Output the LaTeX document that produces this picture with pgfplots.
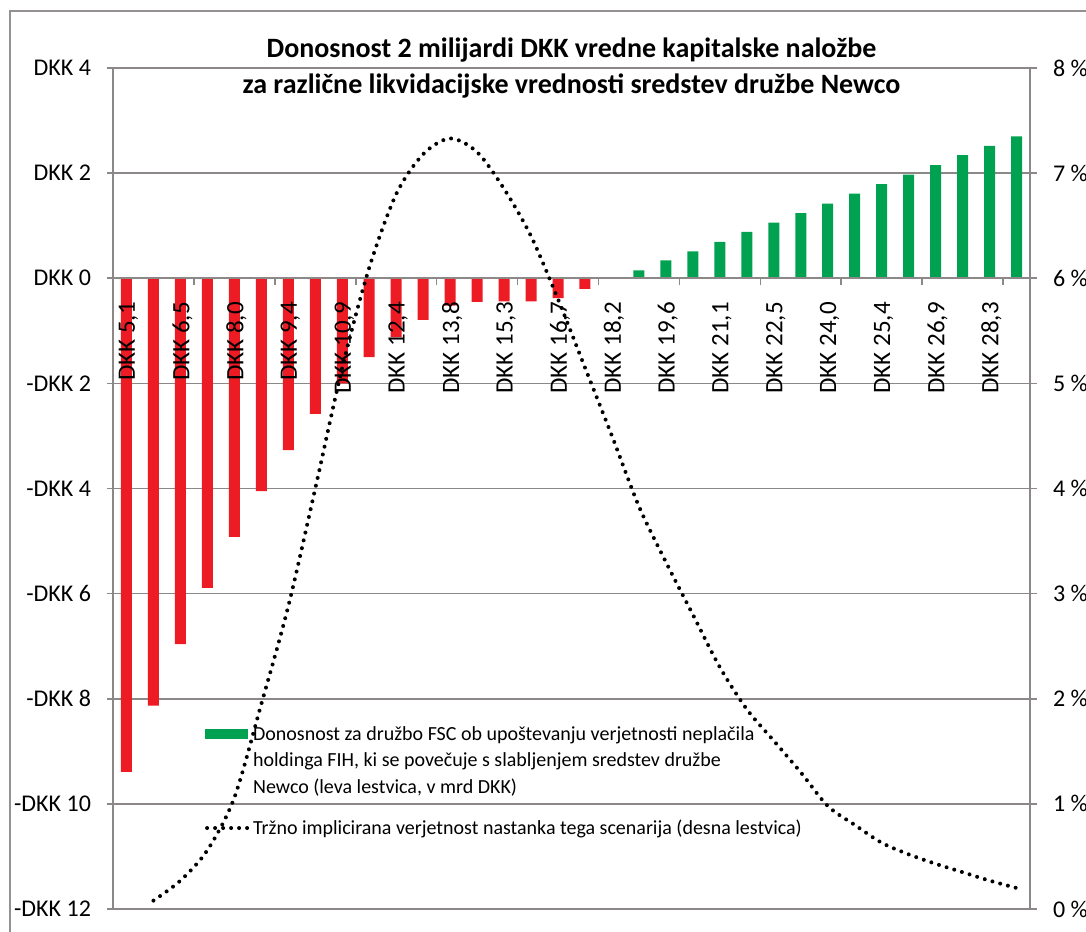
\documentclass[border=0pt]{standalone}
\usepackage{pgfplots}
\pgfplotsset{compat=1.18}
\usepackage{fontspec}
\setmainfont{Carlito}
\definecolor{barred}{RGB}{237,28,36}
\definecolor{bargreen}{RGB}{0,161,80}
\definecolor{gridgray}{RGB}{140,136,135}
\definecolor{framegray}{RGB}{150,145,145}
\pgfplotsset{
  common/.style={at={(56.5pt,11pt)}, anchor=south west,
    scale only axis, width=458.5pt, height=420.5pt,
    xmin=-0.5, xmax=33.5,
    axis line style={gridgray, line width=0.8pt}},
}
\newcommand{\lstrut}{\rule[-3pt]{0pt}{10.6pt}}
\begin{document}
\begin{tikzpicture}
\useasboundingbox (0,0) rectangle (543pt,465.5pt);
\draw[framegray, line width=1pt] (5pt,-2pt) -- (5pt,460pt) -- (546pt,460pt);
% bars, grid, left axis, title, legend
\begin{axis}[
  common, ymin=-12, ymax=4,
  axis y line*=left, axis x line=none,
  ymajorgrids=true,
  major grid style={gridgray, line width=0.8pt},
  ytick={-12,-10,...,4},
  yticklabels={-DKK 12,-DKK 10,-DKK 8,-DKK 6,-DKK 4,-DKK 2,DKK 0,DKK 2,DKK 4},
  yticklabel style={font=\fontsize{12}{14}\selectfont, xshift=-4.5pt},
  tick align=outside, major tick length=3pt,
  every major y tick/.append style={draw=gridgray, line width=0.8pt},
  title={Donosnost 2 milijardi DKK vredne kapitalske naložbe\\za različne likvidacijske vrednosti sredstev družbe Newco},
  title style={align=center, font=\bfseries\fontsize{14}{18}\selectfont, at={(0.5,1)}, anchor=center, yshift=-6pt},
  legend cell align=left,
  legend style={draw=none, fill=none, inner sep=0pt, at={(0.1,0.2235)}, anchor=north west,
    font=\fontsize{10}{12}\selectfont, cells={anchor=base west, inner ysep=0pt}, row sep=0pt},
]
\addplot[ybar, bar width=5.5pt, bar shift=0pt, fill=barred, draw=none, forget plot] coordinates {
(0,-9.39) (1,-8.13) (2,-6.96) (3,-5.89) (4,-4.92) (5,-4.05) (6,-3.27) (7,-2.58) (8,-2.00)
(9,-1.50) (10,-1.12) (11,-0.79) (12,-0.52) (13,-0.45) (14,-0.44) (15,-0.44) (16,-0.38) (17,-0.20)};
\addplot[ybar, bar width=5.5pt, bar shift=0pt, fill=bargreen, draw=none,
  legend image code/.code={\fill[bargreen] (0pt,1pt) rectangle (21.5pt,6pt);}] coordinates {
(19,0.15) (20,0.34) (21,0.51) (22,0.69) (23,0.88) (24,1.06) (25,1.24) (26,1.42) (27,1.61)
(28,1.79) (29,1.97) (30,2.15) (31,2.34) (32,2.52) (33,2.70)};
\addlegendentry{\lstrut Donosnost za družbo FSC ob upoštevanju verjetnosti neplačila}
\addlegendimage{empty legend}
\addlegendentry{\lstrut holdinga FIH, ki se povečuje s slabljenjem sredstev družbe}
\addlegendimage{empty legend}
\addlegendentry{\lstrut Newco (leva lestvica, v mrd DKK)}
\addlegendimage{legend image code/.code={\draw[black, line width=2pt, line cap=round, dash pattern=on 0pt off 4pt] (1pt,3pt) -- (21pt,3pt);}}
\addlegendentry{\rule[-3pt]{0pt}{18pt}Tržno implicirana verjetnost nastanka tega scenarija (desna lestvica)}
\end{axis}
% category axis at zero, labels on top of bars
\begin{axis}[
  common, ymin=-12, ymax=4,
  axis y line=none, axis x line*=middle,
  xtick={0,2,...,32},
  xticklabels={DKK 5{,}1,DKK 6{,}5,DKK 8{,}0,DKK 9{,}4,DKK 10{,}9,DKK 12{,}4,DKK 13{,}8,DKK 15{,}3,DKK 16{,}7,DKK 18{,}2,DKK 19{,}6,DKK 21{,}1,DKK 22{,}5,DKK 24{,}0,DKK 25{,}4,DKK 26{,}9,DKK 28{,}3},
  xticklabel style={rotate=90, anchor=east, font=\fontsize{12.5}{15}\selectfont, xshift=-8.5pt, yshift=-1pt},
  minor xtick={2.5,5.5,...,32.5},
  tick align=outside,
  major tick length=0pt, minor tick length=3.5pt,
  every major x tick/.append style={draw=none},
  every minor x tick/.append style={draw=gridgray, line width=0.8pt},
]
\end{axis}
% right axis with probability line
\begin{axis}[
  common, ymin=0, ymax=8,
  axis y line*=right, axis x line=none,
  ytick={0,1,...,8},
  yticklabels={0 \%,1 \%,2 \%,3 \%,4 \%,5 \%,6 \%,7 \%,8 \%},
  yticklabel style={font=\fontsize{12}{14}\selectfont, xshift=4.5pt},
  tick align=outside, major tick length=3.5pt,
  every major y tick/.append style={draw=gridgray, line width=0.8pt},
]
\addplot[black, line width=2pt, line cap=round, dash pattern=on 0pt off 4pt, smooth, mark=none] coordinates {
(1,0.08) (2,0.27) (3,0.56) (4,1.06) (5,1.95) (6,2.88) (7,4.00) (8,5.15) (9,6.10) (10,6.80)
(11,7.18) (12,7.33) (13,7.20) (14,6.85) (15,6.40) (16,5.80) (17,5.15) (18,4.50) (19,3.83)
(20,3.30) (21,2.80) (22,2.30) (23,1.90) (24,1.60) (25,1.30) (26,0.98) (27,0.80) (28,0.63)
(29,0.52) (30,0.43) (31,0.35) (32,0.27) (33,0.20)};
\end{axis}
\end{tikzpicture}
\end{document}
